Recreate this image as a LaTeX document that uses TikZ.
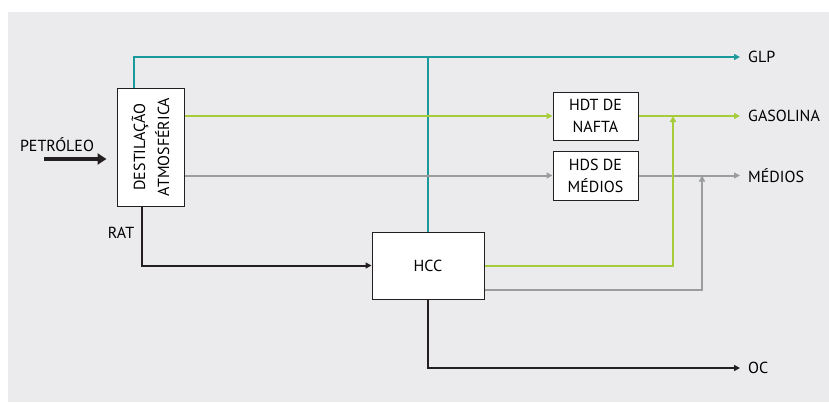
\documentclass[tikz,border=0pt]{standalone}
\usepackage{fontspec}
\setmainfont{PT Sans}
\usetikzlibrary{arrows.meta}

\definecolor{fundo}{HTML}{EBEBED}
\definecolor{corglp}{HTML}{1A9A9B}
\definecolor{corgas}{HTML}{A6CC3A}
\definecolor{cormed}{HTML}{9B9C9E}
\definecolor{corres}{HTML}{231F20}

\tikzset{
  caixa/.style={draw=corres, line width=1pt, fill=white, align=center, inner sep=0pt, font=\fontsize{16}{22}\selectfont},
  rotulo/.style={anchor=west, inner sep=8pt, font=\fontsize{16}{22}\selectfont},
  fluxo/.style={line width=2pt, -{Triangle[length=6pt,width=6pt]}},
  linha/.style={line width=2pt}
}

\begin{document}
\begin{tikzpicture}[x=1pt,y=-1pt]
  \def \xsaida {740}

  \useasboundingbox (0,0) rectangle (829,402);
  \fill[fundo] (8,12) rectangle (829,402);

  % unidades
  \node[caixa, minimum width=67, minimum height=118] (dest) at (150.5,147) {};
  \node[rotate=90, align=center, font=\fontsize{16}{24}\selectfont] (destlabel) at (dest.center) {DESTILAÇÃO\\ATMOSFÉRICA};
  \node[caixa, minimum width=85, minimum height=48] (hdt) at (595.5,116) {HDT DE\\NAFTA};
  \node[caixa, minimum width=85, minimum height=49] (hds) at (595.5,175.5) {HDS DE\\MÉDIOS};
  \node[caixa, minimum width=112, minimum height=67] (hcc) at (428,265.5) {HCC};

  % produtos
  \foreach \nome/\texto/\y in {glp/GLP/57, gasolina/GASOLINA/116, medios/MÉDIOS/175.5, oc/OC/368}{
    \node[rotulo] (\nome) at (\xsaida,\y) {\texto};
  }
  \node[font=\fontsize{16}{22}\selectfont] (petroleo) at (57,145) {PETRÓLEO};
  \node[font=\fontsize{16}{22}\selectfont] (rat) at (121,233) {RAT};

  \coordinate (entrada) at (44,159);
  \coordinate (jgas) at (673,116);
  \coordinate (jmed) at (702,175.5);

  % correntes
  \draw[corres, line width=4pt, -{Triangle[length=9pt,width=11pt]}] (entrada) -- ([xshift=-10pt]dest.west |- entrada);
  \draw[corglp, fluxo] ([xshift=-17pt]dest.north) |- (glp.west);
  \draw[corglp, linha] (hcc.north) -- (hcc.north |- glp.west);
  \draw[corgas, fluxo] (dest.east |- hdt.west) -- (hdt.west);
  \draw[corgas, fluxo] (hdt.east) -- (gasolina.west);
  \draw[cormed, fluxo] (dest.east |- hds.west) -- (hds.west);
  \draw[cormed, fluxo] (hds.east) -- (medios.west);
  \draw[corres, fluxo] ([xshift=-8.5pt]dest.south) |- (hcc.west);
  \draw[corgas, fluxo] (hcc.east) -| (jgas);
  \draw[cormed, fluxo] ([yshift=10pt]hcc.south east) -| (jmed);
  \draw[corres, fluxo] (hcc.south) |- (oc.west);
\end{tikzpicture}
\end{document}
